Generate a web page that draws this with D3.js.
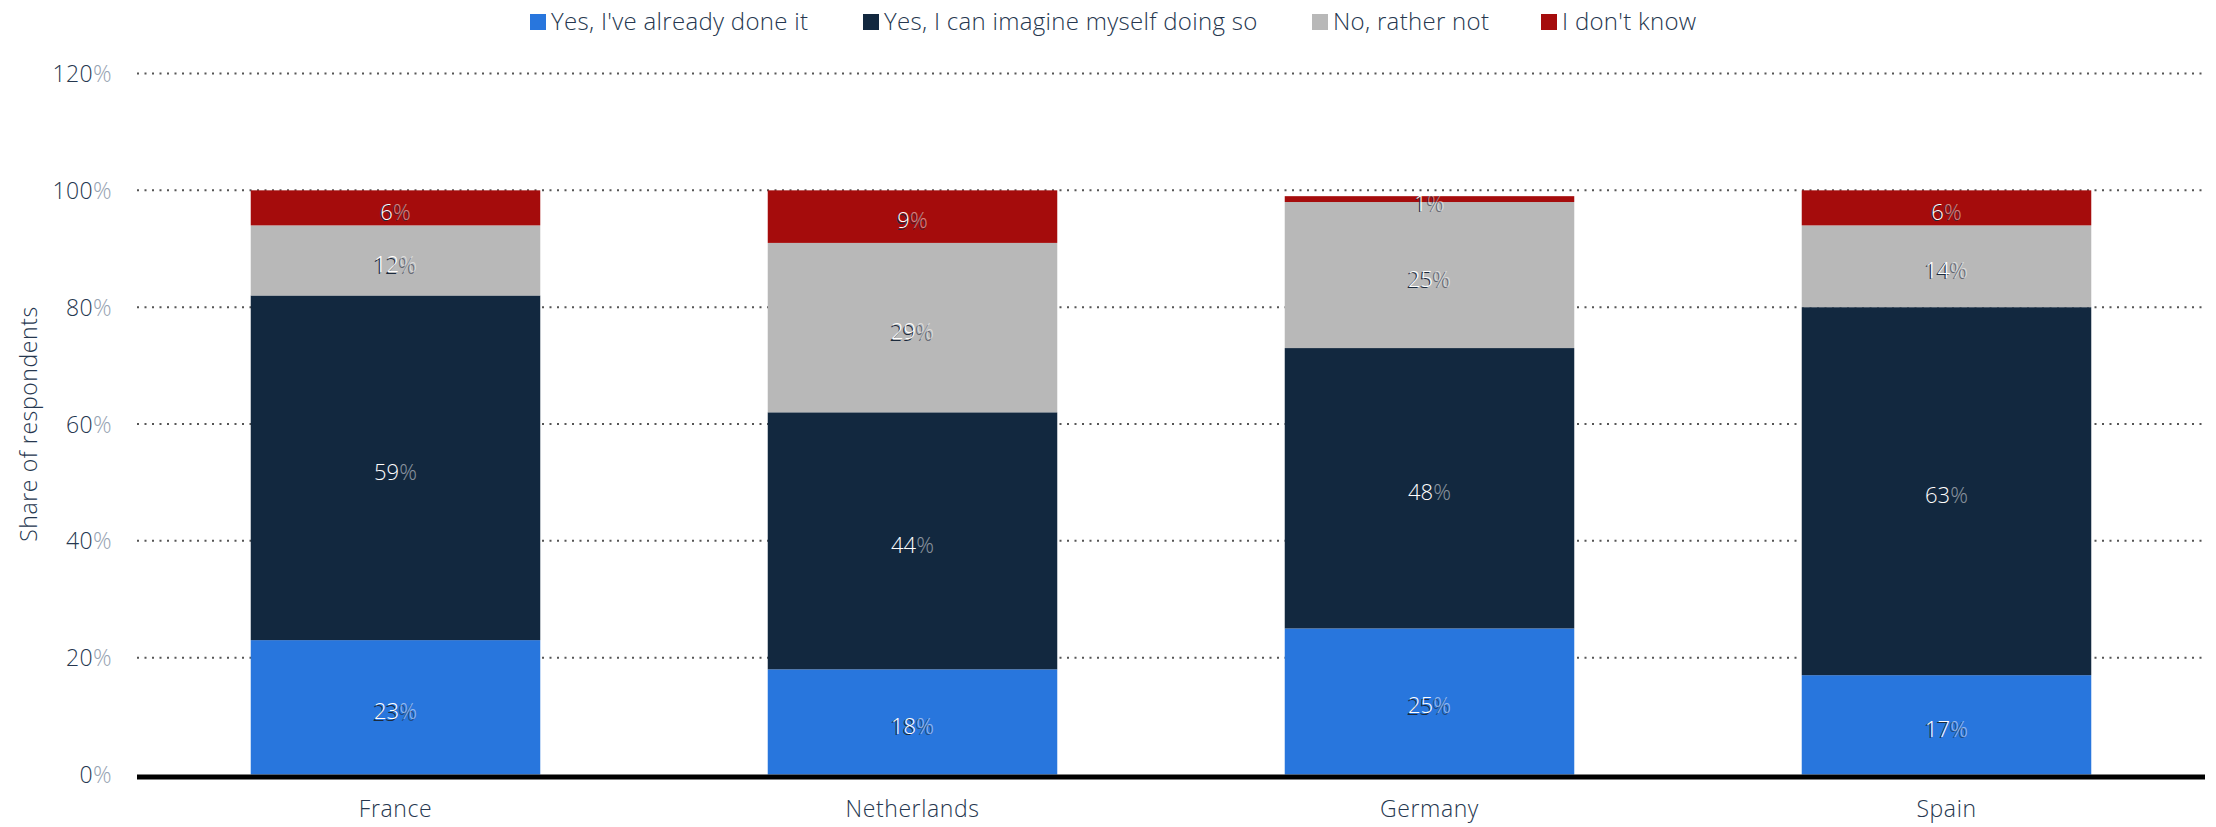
<!DOCTYPE html>
<html>
<head>
<meta charset="utf-8">
<script src="https://cdn.jsdelivr.net/npm/d3@7"></script>
<style>
  html, body { margin: 0; padding: 0; background: #fff; }
  svg { display: block; font-family: "Open Sans", "Lato", sans-serif; font-weight: 300; }
</style>
</head>
<body>
<svg id="chart" width="2216" height="827"></svg>
<script>
// Survey answers per country (share of respondents, %)
const countries = ["France", "Netherlands", "Germany", "Spain"];
const seriesNames = [
  "Yes, I've already done it",
  "Yes, I can imagine myself doing so",
  "No, rather not",
  "I don't know"
];
const alreadyDone   = [23, 18, 25, 17];
const canImagine    = [59, 44, 48, 63];
const ratherNot     = [12, 29, 25, 14];
const dontKnow      = [6, 9, 1, 6];
const seriesColors  = ["#2876dd", "#12283f", "#b8b8b8", "#a50c0c"];
const yTicks        = [0, 20, 40, 60, 80, 100, 120];

const seriesValues = [alreadyDone, canImagine, ratherNot, dontKnow];
const rows = countries.map((c, i) => {
  const r = { country: c };
  seriesNames.forEach((s, k) => { r[s] = seriesValues[k][i]; });
  return r;
});
const stacked = d3.stack().keys(seriesNames)(rows);

const svg = d3.select("#chart");
const plotLeft = 137, plotRight = 2205, plotTop = 73.5, plotBottom = 774.5;
const textColor = "#26374f";

const x = d3.scaleBand().domain(countries).range([plotLeft, plotRight])
  .paddingInner(0.44).paddingOuter(0.22);
const y = d3.scaleLinear().domain([0, 120]).range([plotBottom, plotTop]);

// Dotted horizontal gridlines
svg.append("g").selectAll("line").data(yTicks.filter(t => t > 0)).join("line")
  .attr("x1", plotLeft).attr("x2", plotRight - 3)
  .attr("y1", d => y(d)).attr("y2", d => y(d))
  .attr("stroke", "#555").attr("stroke-width", 2)
  .attr("stroke-dasharray", "2,5.5");

// Y axis tick labels: number + lighter percent sign
const yAxis = svg.append("g").attr("transform", `translate(${plotLeft - 25},0)`)
  .call(d3.axisLeft(y).tickValues(yTicks).tickSize(0).tickFormat(""));
yAxis.select(".domain").remove();
yAxis.selectAll(".tick").append("text")
  .attr("text-anchor", "end").attr("dy", "0.35em")
  .attr("font-size", 23).attr("font-family", "'Open Sans', sans-serif")
  .attr("letter-spacing", 0.4)
  .each(function(d) {
    const t = d3.select(this);
    t.append("tspan").attr("fill", textColor).text(d);
    t.append("tspan").attr("fill", "#97a3b2").text("%");
  });

// Y axis title
svg.append("text")
  .attr("transform", `translate(37,${(plotTop + plotBottom) / 2}) rotate(-90)`)
  .attr("text-anchor", "middle").attr("font-size", 23).attr("letter-spacing", 0.6)
  .attr("fill", textColor).text("Share of respondents");

// Stacked bars
const layers = svg.append("g").selectAll("g").data(stacked).join("g")
  .attr("fill", (d, i) => seriesColors[i]);
layers.selectAll("rect").data(d => d).join("rect")
  .attr("x", d => x(d.data.country))
  .attr("width", x.bandwidth())
  .attr("y", d => y(d[1]))
  .attr("height", d => y(d[0]) - y(d[1]));

// Segment value labels with a dark shadow
const labels = svg.append("g").selectAll("g").data(stacked).join("g");
labels.each(function(layer) {
  const g = d3.select(this);
  layer.forEach(d => {
    const v = d[1] - d[0];
    const cx = x(d.data.country) + x.bandwidth() / 2;
    const cy = (y(d[0]) + y(d[1])) / 2 + 4;
    const shadow = g.append("text").attr("x", cx - 1.5).attr("y", cy + 1.5)
      .attr("dy", "0.35em").attr("text-anchor", "middle").attr("font-size", 22)
      .attr("fill", "#1b2a3c");
    shadow.append("tspan").text(v);
    shadow.append("tspan").attr("fill-opacity", 0.6).text("%");
    const t = g.append("text").attr("x", cx).attr("y", cy)
      .attr("dy", "0.35em").attr("text-anchor", "middle").attr("font-size", 22)
      .attr("fill", "#ffffff");
    t.append("tspan").text(v);
    t.append("tspan").attr("fill-opacity", 0.5).text("%");
  });
});

// Baseline
svg.append("line").attr("x1", plotLeft).attr("x2", plotRight)
  .attr("y1", plotBottom + 2.5).attr("y2", plotBottom + 2.5)
  .attr("stroke", "#000").attr("stroke-width", 5);

// X axis category labels
const xAxis = svg.append("g").attr("transform", `translate(0,${plotBottom + 5})`)
  .call(d3.axisBottom(x).tickSize(0).tickPadding(21));
xAxis.select(".domain").remove();
xAxis.selectAll("text").attr("font-size", 23).attr("fill", textColor)
  .attr("letter-spacing", 0.6).attr("font-family", "'Open Sans', sans-serif");

// Legend
const legendX = [530, 863, 1312, 1541];
const legend = svg.append("g").selectAll("g").data(seriesNames).join("g")
  .attr("transform", (d, i) => `translate(${legendX[i]},22)`);
legend.append("rect").attr("x", 0).attr("y", -8).attr("width", 16).attr("height", 16)
  .attr("fill", (d, i) => seriesColors[i]);
legend.append("text").attr("x", 21).attr("dy", "0.35em").attr("font-size", 24)
  .attr("letter-spacing", 0.3).attr("fill", textColor).text(d => d);
</script>
</body>
</html>
